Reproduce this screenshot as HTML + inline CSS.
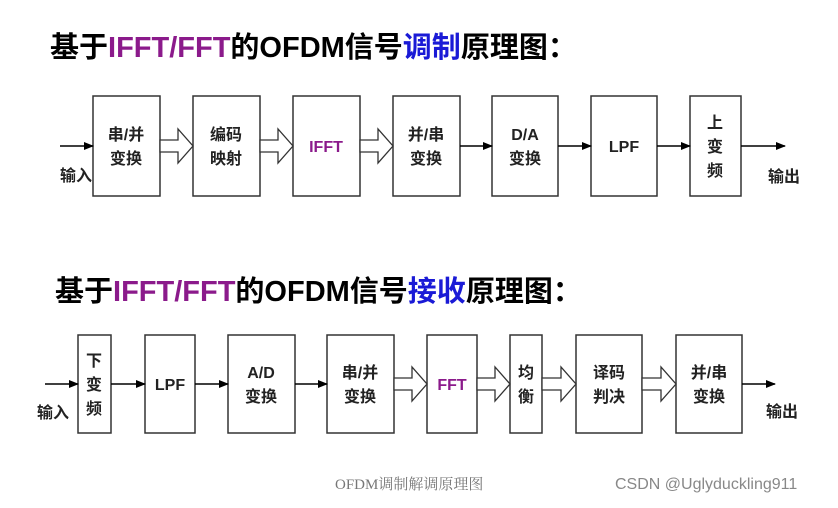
<!DOCTYPE html>
<html><head><meta charset="utf-8"><style>
body{margin:0;background:#fff;width:838px;height:503px;overflow:hidden}
svg text{font-family:"Liberation Sans","Noto Sans CJK SC",sans-serif}
</style></head><body>
<svg width="838" height="503" viewBox="0 0 838 503" xmlns="http://www.w3.org/2000/svg">
<defs><marker id="a" markerWidth="10" markerHeight="8" refX="9" refY="4" orient="auto" markerUnits="userSpaceOnUse"><path d="M0,0 L10,4 L0,8 z" fill="#000"/></marker></defs>
<g font-weight="bold" font-size="29">
<text x="50" y="57">基于<tspan fill="#8b1a8b">IFFT/FFT</tspan>的OFDM信号<tspan fill="#1a1ad6">调制</tspan>原理图：</text>
<text x="55" y="301">基于<tspan fill="#8b1a8b">IFFT/FFT</tspan>的OFDM信号<tspan fill="#1a1ad6">接收</tspan>原理图：</text>
</g>
<g fill="#fff" stroke="#333" stroke-width="1.5">
<rect x="93" y="96" width="67" height="100"/><rect x="193" y="96" width="67" height="100"/><rect x="293" y="96" width="67" height="100"/><rect x="393" y="96" width="67" height="100"/><rect x="492" y="96" width="66" height="100"/><rect x="591" y="96" width="66" height="100"/><rect x="690" y="96" width="51" height="100"/>
<rect x="78" y="335" width="33" height="98"/><rect x="145" y="335" width="50" height="98"/><rect x="228" y="335" width="67" height="98"/><rect x="327" y="335" width="67" height="98"/><rect x="427" y="335" width="50" height="98"/><rect x="510" y="335" width="32" height="98"/><rect x="576" y="335" width="66" height="98"/><rect x="676" y="335" width="66" height="98"/>
</g>
<g stroke="#000" stroke-width="1.5" marker-end="url(#a)">
<line x1="60" y1="146" x2="93" y2="146"/><line x1="460" y1="146" x2="492" y2="146"/><line x1="558" y1="146" x2="591" y2="146"/><line x1="657" y1="146" x2="690" y2="146"/><line x1="741" y1="146" x2="785" y2="146"/>
<line x1="45" y1="384" x2="78" y2="384"/><line x1="111" y1="384" x2="145" y2="384"/><line x1="195" y1="384" x2="228" y2="384"/><line x1="295" y1="384" x2="327" y2="384"/><line x1="742" y1="384" x2="775" y2="384"/>
</g>
<g fill="#fff" stroke="#333" stroke-width="1.3">
<path d="M160,140 h18 v-11 l15,17 l-15,17 v-11 h-18 z"/>
<path d="M260,140 h18 v-11 l15,17 l-15,17 v-11 h-18 z"/>
<path d="M360,140 h18 v-11 l15,17 l-15,17 v-11 h-18 z"/>
<path d="M394,378 h18 v-11 l15,17 l-15,17 v-11 h-18 z"/>
<path d="M477,378 h18 v-11 l15,17 l-15,17 v-11 h-18 z"/>
<path d="M542,378 h19 v-11 l15,17 l-15,17 v-11 h-19 z"/>
<path d="M642,378 h19 v-11 l15,17 l-15,17 v-11 h-19 z"/>
</g>
<g font-size="16" font-weight="bold" fill="#222" text-anchor="middle">
<text x="126" y="140">串/并</text><text x="126" y="164">变换</text>
<text x="226" y="140">编码</text><text x="226" y="164">映射</text>
<text x="326" y="152" fill="#8b1a8b">IFFT</text>
<text x="426" y="140">并/串</text><text x="426" y="164">变换</text>
<text x="525" y="140">D/A</text><text x="525" y="164">变换</text>
<text x="624" y="152">LPF</text>
<text x="715" y="128">上</text><text x="715" y="152">变</text><text x="715" y="176">频</text>
<text x="76" y="181">输入</text><text x="784" y="182">输出</text>
<text x="94" y="366">下</text><text x="94" y="390">变</text><text x="94" y="414">频</text>
<text x="170" y="390">LPF</text>
<text x="261" y="378">A/D</text><text x="261" y="402">变换</text>
<text x="360" y="378">串/并</text><text x="360" y="402">变换</text>
<text x="452" y="390" fill="#8b1a8b">FFT</text>
<text x="526" y="378">均</text><text x="526" y="402">衡</text>
<text x="609" y="378">译码</text><text x="609" y="402">判决</text>
<text x="709" y="378">并/串</text><text x="709" y="402">变换</text>
<text x="53" y="418">输入</text><text x="782" y="417">输出</text>
</g>
<text x="335" y="489" font-size="15" fill="#777" style="font-family:'Liberation Serif','Noto Serif CJK SC',serif">OFDM调制解调原理图</text>
<text x="615" y="489" font-size="16" fill="#888">CSDN @Uglyduckling911</text>
</svg>
</body></html>
